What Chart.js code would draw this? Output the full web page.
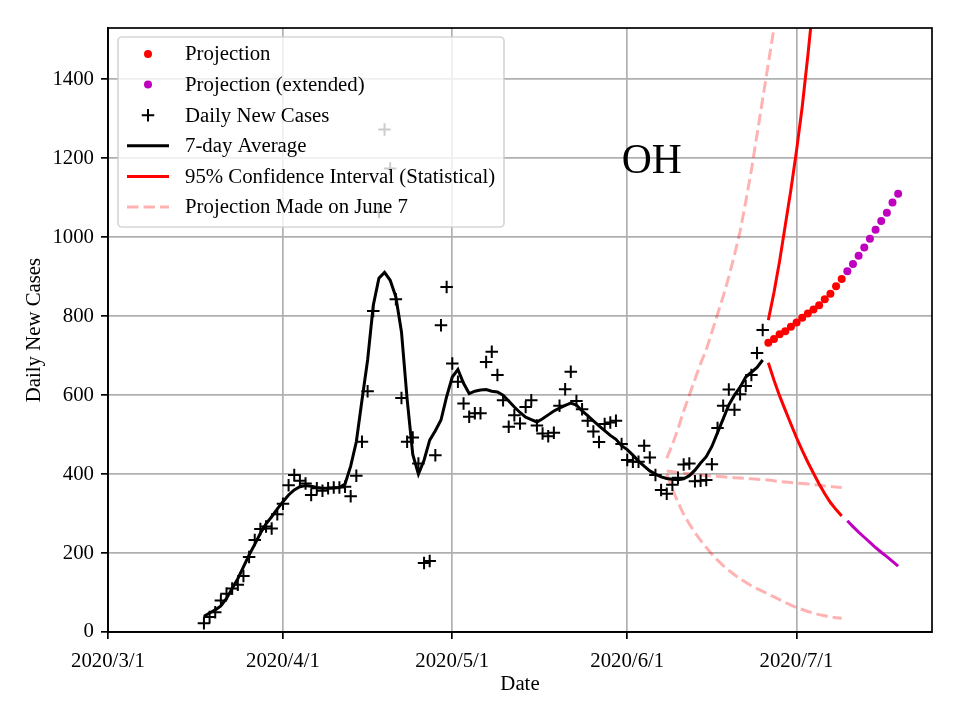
<!DOCTYPE html>
<html>
<head>
<meta charset="utf-8">
<script src="https://cdn.jsdelivr.net/npm/chart.js@4"></script>
<style>
  html, body { margin: 0; padding: 0; background: #fff; }
</style>
</head>
<body>
<canvas id="myChart" width="960" height="720"></canvas>
<script>
// data (x = days since 2020/3/1)
const tickDays = [0, 31, 61, 92, 122];
const tickLabels = ['2020/3/1', '2020/4/1', '2020/5/1', '2020/6/1', '2020/7/1'];
const yTicks = [0, 200, 400, 600, 800, 1000, 1200, 1400];
const stateName = 'OH';

const firstDay = 17; // 2020/3/18
const dailyCases = [22, 38, 50, 80, 97, 110, 120, 142, 190, 233,
  261, 267, 262, 298, 325, 372, 398, 383, 376, 347,
  364, 358, 364, 366, 366, 368, 344, 396, 482, 610,
  813, 1064, 1273, 1174, 843, 593, 482, 493, 427, 175,
  180, 448, 777, 874, 680, 634, 579, 545, 554, 554,
  684, 710, 651, 587, 520, 549, 528, 570, 587, 523,
  503, 496, 505, 573, 615, 659, 585, 564, 535, 508,
  481, 527, 531, 535, 476, 436, 431, 431, 472, 442,
  398, 360, 350, 373, 391, 424, 427, 382, 383, 385,
  425, 517, 573, 614, 563, 602, 623, 651, 707, 765];
const sevenDayAvg = [40, 48, 56, 66, 85, 110, 135, 165, 195, 222,
  250, 274, 292, 312, 330, 347, 360, 368, 371, 369,
  366, 364, 364, 365, 366, 375, 420, 482, 587, 689,
  827, 896, 911, 891, 849, 760, 590, 450, 400, 435,
  486, 510, 537, 596, 646, 665, 630, 604, 610, 613,
  614, 610, 608, 600, 585, 570, 556, 544, 538, 532,
  540, 550, 560, 567, 574, 580, 575, 560, 548, 535,
  522, 510, 498, 488, 472, 462, 448, 433, 420, 408,
  400, 393, 389, 387, 386, 388, 396, 410, 428, 444,
  470, 505, 540, 575, 600, 620, 646, 658, 670, 689];

const projFirstDay = 117;
const projection = [733, 742, 754, 762, 773, 784, 796, 807, 817, 828, 843, 857, 876, 894];
const ciUpper = [790, 860, 940, 1030, 1120, 1220, 1330, 1460, 1600, 1760, 1930, 2120, 2330, 2560];
const ciLower = [682, 638, 598, 562, 527, 492, 460, 430, 402, 375, 350, 328, 310, 294];

const extFirstDay = 131;
const projectionExt = [914, 932, 953, 974, 996, 1019, 1041, 1062, 1088, 1110];
const ciLowerExt = [282, 267, 253, 240, 227, 214, 202, 191, 179, 167];

const june7FirstDay = 99;
const june7Upper = [440, 475, 515, 560, 600, 640, 680, 715, 760, 805,
  850, 900, 955, 1015, 1090, 1170, 1260, 1350, 1440, 1530,
  1620, 1710, 1810, 1910, 2020, 2130, 2250, 2370, 2500, 2640, 2780, 2930];
const june7Mid = [408, 406, 404, 402, 401, 399, 398, 396, 395, 394,
  393, 392, 391, 390, 389, 388, 387, 386, 385, 383,
  381, 380, 379, 377, 376, 375, 373, 372, 370, 369, 367, 366];
const june7Lower = [400, 362, 328, 298, 274, 252, 232, 214, 197, 182,
  168, 156, 145, 135, 126, 117, 110, 103, 96, 89,
  82, 75, 68, 62, 57, 52, 48, 44, 41, 38, 36, 35];

const pts = (start, arr) => arr.map((y, i) => ({x: start + i, y: y}));

const SERIF = '"Liberation Serif", "DejaVu Serif", serif';
const FS = 20.8;
Chart.defaults.font.family = SERIF;
Chart.defaults.font.size = FS;
Chart.defaults.color = '#000';

const RED = '#ff0000', MAG = '#bf00bf', PINK = 'rgba(255,0,0,0.3)';

const line = (label, data, color, dash) => ({
  label: label, data: data, showLine: true, borderColor: color,
  borderWidth: 3, pointRadius: 0, borderDash: dash || [], fill: false
});

const legendItems = [
  {label: 'Projection', kind: 'dot', color: RED},
  {label: 'Projection (extended)', kind: 'dot', color: MAG},
  {label: 'Daily New Cases', kind: 'cross', color: '#000'},
  {label: '7-day Average', kind: 'line', color: '#000'},
  {label: '95% Confidence Interval (Statistical)', kind: 'line', color: RED},
  {label: 'Projection Made on June 7', kind: 'dash', color: PINK}
];

// frame + legend + state label
const decorPlugin = {
  id: 'decor',
  afterDatasetsDraw(chart) {
    const {ctx, chartArea: a} = chart;
    ctx.save();
    ctx.strokeStyle = '#000';
    ctx.lineWidth = 1.7;
    ctx.strokeRect(a.left, a.top, a.right - a.left, a.bottom - a.top);
    ctx.restore();
  },
  afterDraw(chart) {
    const {ctx, chartArea: a} = chart;
    ctx.save();
    ctx.font = '41.6px ' + SERIF;
    ctx.fillStyle = '#000';
    ctx.textAlign = 'center';
    ctx.textBaseline = 'middle';
    ctx.fillText(stateName, a.left + 0.66 * (a.right - a.left), a.top + 134);

    const bx = a.left + 10, by = a.top + 9, bw = 386, bh = 190;
    ctx.beginPath();
    ctx.roundRect(bx, by, bw, bh, 4);
    ctx.fillStyle = 'rgba(255,255,255,0.8)';
    ctx.fill();
    ctx.strokeStyle = 'rgba(204,204,204,0.8)';
    ctx.lineWidth = 1.7;
    ctx.stroke();

    ctx.font = FS + 'px ' + SERIF;
    ctx.textAlign = 'left';
    legendItems.forEach((it, i) => {
      const y = by + 17 + i * 30.6;
      const mx = bx + 30;
      ctx.strokeStyle = it.color;
      ctx.fillStyle = it.color;
      if (it.kind === 'dot') {
        ctx.beginPath();
        ctx.arc(mx, y, 4, 0, Math.PI * 2);
        ctx.fill();
      } else if (it.kind === 'cross') {
        ctx.lineWidth = 2;
        ctx.beginPath();
        ctx.moveTo(mx - 6.25, y); ctx.lineTo(mx + 6.25, y);
        ctx.moveTo(mx, y - 6.25); ctx.lineTo(mx, y + 6.25);
        ctx.stroke();
      } else {
        ctx.lineWidth = 3;
        ctx.setLineDash(it.kind === 'dash' ? [11.5, 5] : []);
        ctx.beginPath();
        ctx.moveTo(bx + 9, y); ctx.lineTo(bx + 51, y);
        ctx.stroke();
        ctx.setLineDash([]);
      }
      ctx.fillStyle = '#000';
      ctx.fillText(it.label, bx + 67, y + 1);
    });
    ctx.restore();
  }
};

const ctx = document.getElementById('myChart').getContext('2d');
const myChart = new Chart(ctx, {
  type: 'scatter',
  data: {
    datasets: [
      {label: 'Projection', data: pts(projFirstDay, projection), pointStyle: 'circle',
        pointRadius: 4, backgroundColor: RED, borderWidth: 0},
      {label: 'Projection (extended)', data: pts(extFirstDay, projectionExt), pointStyle: 'circle',
        pointRadius: 4, backgroundColor: MAG, borderWidth: 0},
      {label: 'Daily New Cases', data: pts(firstDay, dailyCases), pointStyle: 'cross',
        pointRadius: 6.25, borderColor: '#000', borderWidth: 2},
      line('7-day Average', pts(firstDay, sevenDayAvg), '#000'),
      line('95% CI upper', pts(projFirstDay, ciUpper), RED),
      line('95% CI lower', pts(projFirstDay, ciLower), RED),
      line('95% CI lower (ext)', pts(extFirstDay, ciLowerExt), MAG),
      line('June 7 upper', pts(june7FirstDay, june7Upper), PINK, [11.5, 5]),
      line('June 7 mid', pts(june7FirstDay, june7Mid), PINK, [11.5, 5]),
      line('June 7 lower', pts(june7FirstDay, june7Lower), PINK, [11.5, 5])
    ]
  },
  options: {
    responsive: false,
    animation: false,
    devicePixelRatio: 1,
    events: [],
    layout: {padding: {top: 28, right: 28, left: 0, bottom: 0}},
    plugins: {legend: {display: false}, tooltip: {enabled: false}},
    scales: {
      x: {
        type: 'linear', min: 0, max: 146,
        afterBuildTicks: axis => { axis.ticks = tickDays.map(v => ({value: v})); },
        afterFit: s => { s.height = 88; },
        ticks: {
          padding: 10, maxRotation: 0, autoSkip: false,
          callback: v => tickLabels[tickDays.indexOf(v)]
        },
        grid: {color: '#b0b0b0', lineWidth: 1.7, tickColor: '#000', tickLength: 7, tickWidth: 1.7},
        border: {color: '#000', width: 1.7},
        title: {display: true, text: 'Date', padding: {top: 0, bottom: 23}}
      },
      y: {
        min: 0, max: 1530,
        afterBuildTicks: axis => { axis.ticks = yTicks.map(v => ({value: v})); },
        afterFit: s => { s.width = 108; },
        ticks: {padding: 7, callback: v => String(v)},
        grid: {color: '#b0b0b0', lineWidth: 1.7, tickColor: '#000', tickLength: 7, tickWidth: 1.7},
        border: {color: '#000', width: 1.7},
        title: {display: true, text: 'Daily New Cases', padding: {top: 22, bottom: 0}}
      }
    }
  },
  plugins: [decorPlugin]
});
</script>
</body>
</html>
